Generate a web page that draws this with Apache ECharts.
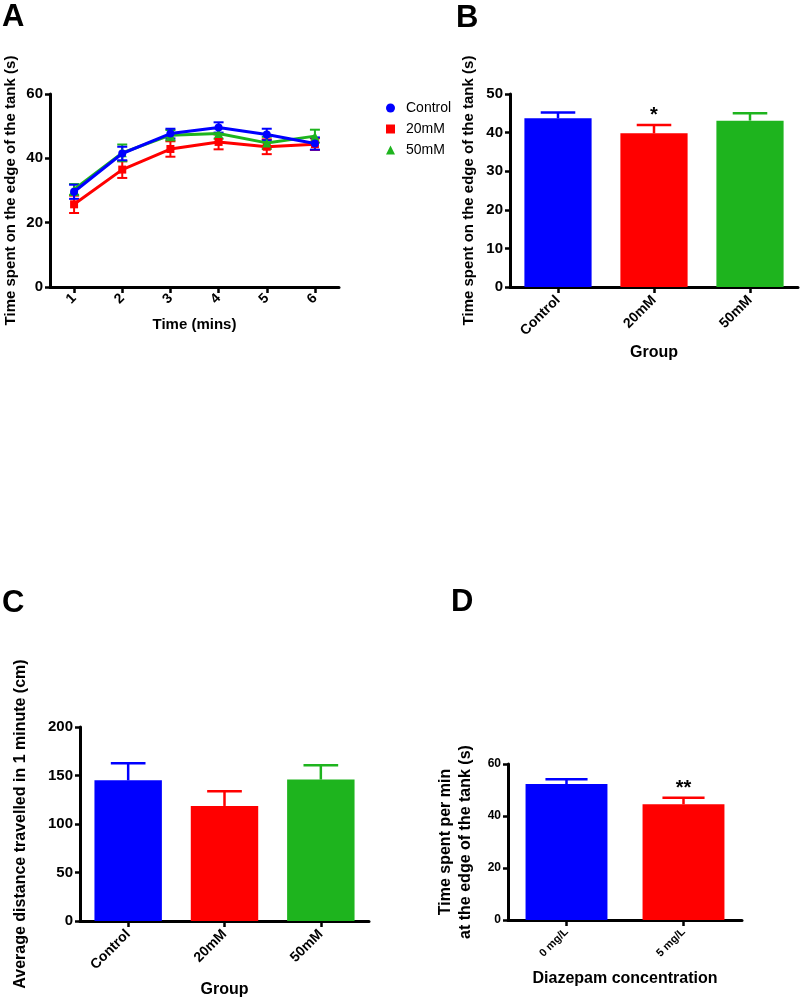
<!DOCTYPE html>
<html><head><meta charset="utf-8">
<script src="https://cdn.jsdelivr.net/npm/echarts@6/dist/echarts.min.js"></script>
<style>html,body{margin:0;padding:0;background:#fff}#c{width:800px;height:1001px}</style>
</head><body><div id="c"></div>
<script>
// ---------- data ----------
const timeCats = ['1', '2', '3', '4', '5', '6'];
const ctrlMean = [29.6, 41.5, 47.7, 49.6, 47.4, 44.6];
const ctrlErr  = [2.2, 2.1, 1.5, 1.6, 1.8, 1.9];
const m20Mean  = [25.7, 36.5, 42.9, 45.1, 43.6, 44.4];
const m20Err   = [2.7, 2.6, 2.4, 2.3, 2.3, 1.8];
const m50Mean  = [30.3, 41.7, 47.2, 47.7, 44.8, 46.9];
const m50Err   = [1.7, 2.6, 1.6, 1.6, 1.9, 2.0];

const groupCats = ['Control', '20mM', '50mM'];
const edgeMean = [43.7, 39.8, 43.1];
const edgeErr  = [1.5, 2.2, 1.9];
const edgeSig  = ['', '*', ''];

const distMean = [145.0, 118.6, 145.8];
const distErr  = [17.6, 15.1, 14.7];
const distSig  = ['', '', ''];

const diazCats = ['0 mg/L', '5 mg/L'];
const diazMean = [52.3, 44.5];
const diazErr  = [1.8, 2.5];
const diazSig  = ['', '**'];

const yTicksA = [0, 60, 20];
const yTicksB = [0, 50, 10];
const yTicksC = [0, 200, 50];
const yTicksD = [0, 60, 20];

// ---------- styles ----------
const FONT = 'Arial, "Liberation Sans", Helvetica, sans-serif';
const BLUE = '#0000ff', RED = '#ff0000', GREEN = '#1eb41e';
const groupColors = [BLUE, RED, GREEN];

function yAxis(gi, t, name, gap, fs, lfs) {
  return {
    type: 'value', gridIndex: gi, min: t[0], max: t[1], interval: t[2],
    name: name, nameLocation: 'middle', nameGap: gap,
    nameTextStyle: { fontFamily: FONT, fontWeight: 'bold', fontSize: fs, color: '#000', lineHeight: fs + 4 },
    axisLine: { show: true, lineStyle: { color: '#000', width: 3 } },
    axisTick: { show: true, length: 5, lineStyle: { color: '#000', width: 2.5 } },
    axisLabel: { fontFamily: FONT, fontWeight: 'bold', fontSize: lfs, color: '#000', margin: 7 },
    splitLine: { show: false }
  };
}
function xAxis(gi, cats, name, gap, fs, lfs, margin) {
  return {
    type: 'category', gridIndex: gi, data: cats,
    name: name, nameLocation: 'middle', nameGap: gap,
    nameTextStyle: { fontFamily: FONT, fontWeight: 'bold', fontSize: fs, color: '#000' },
    axisLine: { show: true, lineStyle: { color: '#000', width: 3 } },
    axisTick: { show: true, alignWithLabel: true, length: 6, lineStyle: { color: '#000', width: 2.5 } },
    axisLabel: { fontFamily: FONT, fontWeight: 'bold', fontSize: lfs, color: '#000', rotate: 45, margin: margin, interval: 0 },
    splitLine: { show: false }
  };
}

// error bars for line chart (two-sided)
function lineErr(name, color, means, errs, gi) {
  return {
    type: 'custom', name: name + ' err', xAxisIndex: gi, yAxisIndex: gi, z: 3,
    data: means.map((m, i) => [i, m, errs[i]]),
    renderItem: function (params, api) {
      const i = api.value(0), m = api.value(1), e = api.value(2);
      const top = api.coord([i, m + e]);
      const bot = api.coord([i, m - e]);
      const hw = 5;
      const st = { stroke: color, lineWidth: 2 };
      return {
        type: 'group', children: [
          { type: 'line', shape: { x1: top[0], y1: top[1], x2: bot[0], y2: bot[1] }, style: st },
          { type: 'line', shape: { x1: top[0] - hw, y1: top[1], x2: top[0] + hw, y2: top[1] }, style: st },
          { type: 'line', shape: { x1: bot[0] - hw, y1: bot[1], x2: bot[0] + hw, y2: bot[1] }, style: st }
        ]
      };
    }
  };
}
// error bars for bar chart (upward only) with significance text
function barErr(means, errs, sig, colors, gi) {
  return {
    type: 'custom', name: 'err' + gi, xAxisIndex: gi, yAxisIndex: gi, z: 1,
    data: means.map((m, i) => [i, m, errs[i]]),
    renderItem: function (params, api) {
      const i = api.value(0), m = api.value(1), e = api.value(2);
      const top = api.coord([i, m + e]);
      const base = api.coord([i, m]);
      const band = api.size([1, 0])[0];
      const hw = band * 0.18;
      const c = colors[i];
      const st = { stroke: c, lineWidth: 2.5 };
      const ch = [
        { type: 'line', shape: { x1: top[0], y1: top[1], x2: base[0], y2: base[1] }, style: st },
        { type: 'line', shape: { x1: top[0] - hw, y1: top[1], x2: top[0] + hw, y2: top[1] }, style: st }
      ];
      if (sig[i]) {
        ch.push({ type: 'text', x: top[0], y: top[1] - 9,
          style: { text: sig[i], font: 'bold 20px ' + FONT, fill: '#000', textAlign: 'center', textVerticalAlign: 'middle' } });
      }
      return { type: 'group', children: ch };
    }
  };
}
function bars(name, means, colors, gi) {
  return {
    type: 'bar', name: name, xAxisIndex: gi, yAxisIndex: gi, z: 2,
    barCategoryGap: '30%',
    data: means.map((v, i) => ({ value: v, itemStyle: { color: colors[i] } })),
    silent: true
  };
}

const chart = echarts.init(document.getElementById('c'), null, { renderer: 'canvas' });
const option = {
  animation: false,
  backgroundColor: '#fff',
  textStyle: { fontFamily: FONT },
  grid: [
    { left: 50, top: 94, width: 289, height: 193 },
    { left: 510, top: 94, width: 288, height: 193 },
    { left: 80, top: 727, width: 289, height: 194 },
    { left: 508, top: 764, width: 234, height: 156 }
  ],
  xAxis: [
    xAxis(0, timeCats, 'Time (mins)', 30, 15, 14, 9),
    xAxis(1, groupCats, 'Group', 58, 16, 14, 11),
    xAxis(2, groupCats, 'Group', 61, 16, 14, 11),
    xAxis(3, diazCats, 'Diazepam concentration', 51, 16, 11, 10)
  ],
  yAxis: [
    yAxis(0, yTicksA, 'Time spent on the edge of the tank (s)', 30, 15, 15),
    yAxis(1, yTicksB, 'Time spent on the edge of the tank (s)', 32, 15, 15),
    yAxis(2, yTicksC, 'Average distance travelled in 1 minute (cm)', 49, 16, 15),
    yAxis(3, yTicksD, 'Time spent per min\nat the edge of the tank (s)', 32, 16, 12)
  ],
  legend: {
    orient: 'vertical', left: 381, top: 96, itemGap: 7, itemWidth: 9, itemHeight: 9,
    textStyle: { fontFamily: FONT, fontSize: 14, color: '#000', padding: [0, 0, 0, 6] },
    data: [
      { name: 'Control', icon: 'circle' },
      { name: '20mM', icon: 'rect' },
      { name: '50mM', icon: 'triangle' }
    ]
  },
  graphic: [
    { type: 'text', left: 2, top: 2, style: { text: 'A', font: 'bold 31px ' + FONT, fill: '#000' } },
    { type: 'text', left: 456, top: 3, style: { text: 'B', font: 'bold 31px ' + FONT, fill: '#000' } },
    { type: 'text', left: 2, top: 588, style: { text: 'C', font: 'bold 31px ' + FONT, fill: '#000' } },
    { type: 'text', left: 451, top: 587, style: { text: 'D', font: 'bold 31px ' + FONT, fill: '#000' } }
  ],
  series: [
    lineErr('20mM', RED, m20Mean, m20Err, 0),
    lineErr('50mM', GREEN, m50Mean, m50Err, 0),
    lineErr('Control', BLUE, ctrlMean, ctrlErr, 0),
    { type: 'line', name: '20mM', xAxisIndex: 0, yAxisIndex: 0, data: m20Mean, z: 4,
      symbol: 'rect', symbolSize: 8, itemStyle: { color: RED }, lineStyle: { color: RED, width: 3 } },
    { type: 'line', name: '50mM', xAxisIndex: 0, yAxisIndex: 0, data: m50Mean, z: 5,
      symbol: 'triangle', symbolSize: 9, itemStyle: { color: GREEN }, lineStyle: { color: GREEN, width: 3 } },
    { type: 'line', name: 'Control', xAxisIndex: 0, yAxisIndex: 0, data: ctrlMean, z: 6,
      symbol: 'circle', symbolSize: 8, itemStyle: { color: BLUE }, lineStyle: { color: BLUE, width: 3 } },
    barErr(edgeMean, edgeErr, edgeSig, groupColors, 1),
    bars('edge', edgeMean, groupColors, 1),
    barErr(distMean, distErr, distSig, groupColors, 2),
    bars('dist', distMean, groupColors, 2),
    barErr(diazMean, diazErr, diazSig, [BLUE, RED], 3),
    bars('diaz', diazMean, [BLUE, RED], 3)
  ]
};
chart.setOption(option);
</script>
</body></html>
